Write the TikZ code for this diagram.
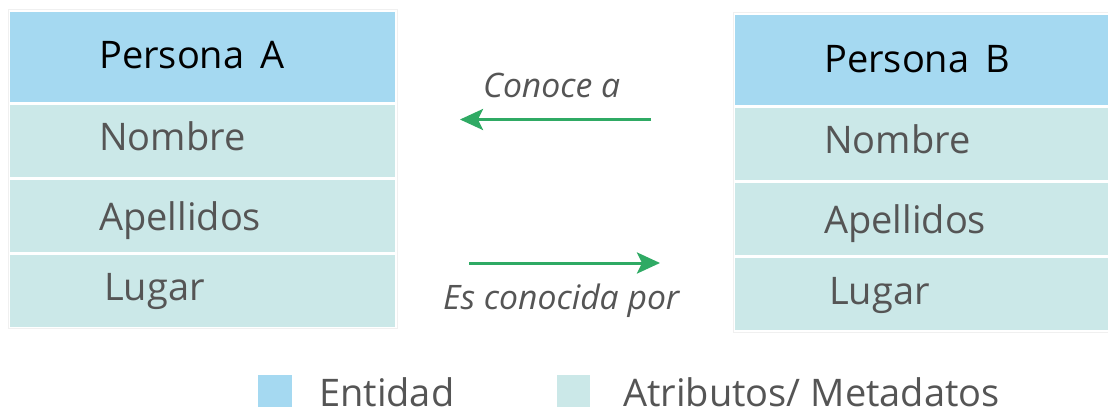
\documentclass[tikz,border=0pt]{standalone}
\usepackage{fontspec}
\setmainfont{Open Sans}
\usetikzlibrary{arrows.meta}
\definecolor{entblue}{HTML}{A5D9F1}
\definecolor{attrteal}{HTML}{CBE8E8}
\definecolor{arrgreen}{HTML}{2FAA64}
\definecolor{txtgrey}{HTML}{555555}
\tikzset{
  hdr/.style={fill=entblue, draw=none},
  attr/.style={fill=attrteal, draw=none},
  hdrtxt/.style={anchor=base west, inner sep=0pt, font=\fontsize{38}{40}\selectfont, text=black},
  attrtxt/.style={anchor=base west, inner sep=0pt, font=\fontsize{38}{40}\selectfont, text=txtgrey},
  reltxt/.style={anchor=base west, inner sep=0pt, font=\fontsize{33.7}{36}\selectfont\itshape, text=txtgrey},
  rel/.style={draw=arrgreen, line width=3pt, -{Stealth[length=23pt,width=21pt,inset=5pt]}},
  legtxt/.style={anchor=base west, inner sep=0pt, text depth=0pt, font=\fontsize{38}{40}\selectfont, text=txtgrey},
}
\begin{document}
\begin{tikzpicture}[x=1pt,y=-1pt]
\useasboundingbox (0,0) rectangle (1108,412);
\fill[white] (0,0) rectangle (1108,412);
% faint outlines
\draw[draw=black!6, line width=1pt] (8,10) rectangle (397,328);
\draw[draw=black!6, line width=1pt] (733,13) rectangle (1115,332);
% Persona A
\fill[hdr] (10,12) rectangle (395,101.5);
\fill[attr] (10,105) rectangle (395,177);
\fill[attr] (10,180) rectangle (395,252);
\fill[attr] (10,255) rectangle (395,327);
\node[hdrtxt] (pa) at (99,68) {Persona\, A};
\node[attrtxt] (pan) at (99,150) {Nombre};
\node[attrtxt] (paa) at (99,230) {Apellidos};
\node[attrtxt] (pal) at (104,300) {Lugar};
% Persona B
\fill[hdr] (735,15) rectangle (1112,105);
\fill[attr] (735,108) rectangle (1112,180);
\fill[attr] (735,183) rectangle (1112,255);
\fill[attr] (735,258) rectangle (1112,330);
\node[hdrtxt] (pb) at (824,72) {Persona\, B};
\node[attrtxt] (pbn) at (824,153) {Nombre};
\node[attrtxt] (pba) at (824,233) {Apellidos};
\node[attrtxt] (pbl) at (829,304) {Lugar};
% relations
\coordinate (c1s) at (651,119.5);
\coordinate (c1e) at (460,119.5);
\coordinate (c2s) at (469,263);
\coordinate (c2e) at (660,263);
\draw[rel] (c1s) -- (c1e);
\draw[rel] (c2s) -- (c2e);
\node[reltxt] (l1) at (483,97) {Conoce a};
\node[reltxt] (l2) at (443,309) {Es conocida por};
% legend
\fill[entblue] (258,375) rectangle (292,407);
\node[legtxt] (le) at (319,406.5) {Entidad};
\fill[attrteal] (557,375) rectangle (590,407);
\node[legtxt] (la) at (623,406.5) {Atributos/ Metadatos};
\end{tikzpicture}
\end{document}
